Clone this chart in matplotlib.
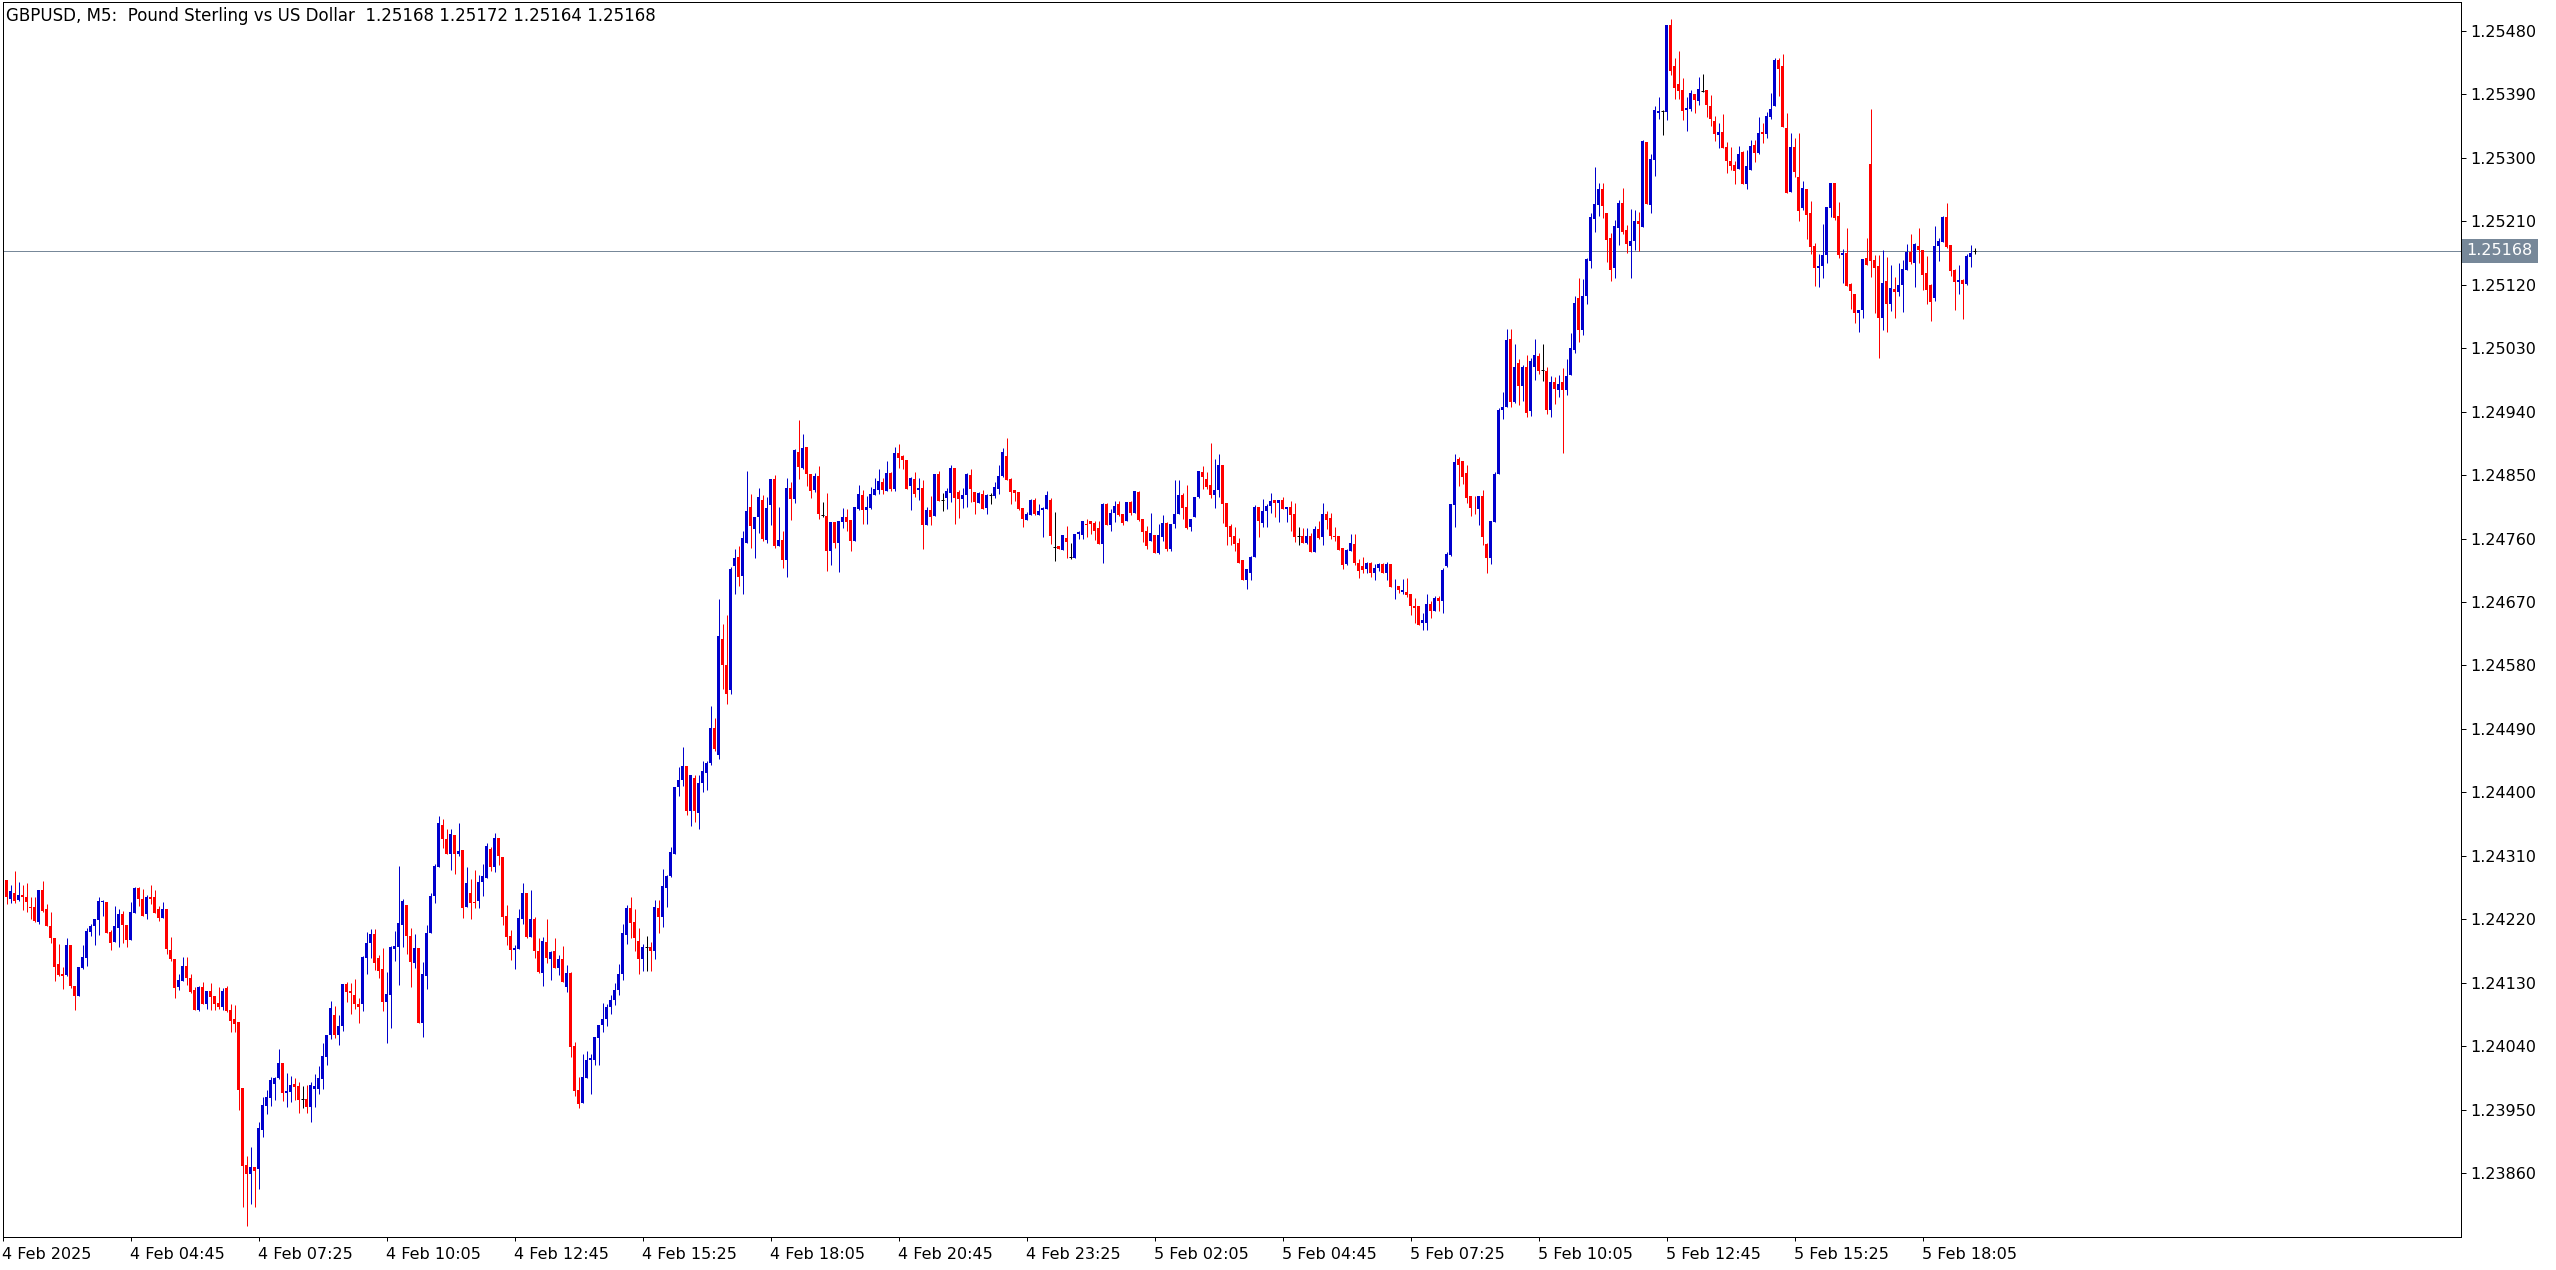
import numpy as np
import matplotlib
matplotlib.use("Agg")
import matplotlib.pyplot as plt

# GBPUSD M5 candles, prices in points (1e-5), one entry per bar
opens = [
    124310, 124276, 124249, 124258, 124247, 124255, 124252, 124237, 124237, 124216,
    124262, 124234, 124211, 124194, 124156, 124143, 124141, 124183, 124126, 124111,
    124151, 124165, 124202, 124210, 124219, 124244, 124245, 124202, 124188, 124207,
    124227, 124212, 124191, 124229, 124265, 124249, 124227, 124252, 124252, 124234,
    124222, 124234, 124177, 124163, 124124, 124133, 124154, 124137, 124120, 124092,
    124124, 124100, 124119, 124111, 124101, 124095, 124122, 124091, 124078, 124074,
    123981, 123871, 123859, 123869, 123866, 123921, 123955, 123966, 123986, 123995,
    124016, 123973, 123975, 123986, 123983, 123965, 123965, 123954, 123979, 123979,
    123993, 124025, 124056, 124084, 124056, 124069, 124128, 124118, 124112, 124100,
    124100, 124165, 124186, 124199, 124165, 124149, 124103, 124112, 124178, 124181,
    124212, 124240, 124197, 124158, 124179, 124073, 124139, 124200, 124253, 124294,
    124354, 124334, 124312, 124339, 124312, 124318, 124237, 124257, 124244, 124246,
    124273, 124278, 124319, 124294, 124336, 124308, 124224, 124196, 124176, 124178,
    124220, 124257, 124195, 124220, 124175, 124144, 124188, 124163, 124175, 124151,
    124163, 124124, 124144, 124041, 123978, 123959, 123995, 124021, 124021, 124051,
    124070, 124078, 124095, 124105, 124120, 124142, 124198, 124236, 124216, 124189,
    124164, 124180, 124180, 124175, 124236, 124223, 124264, 124281, 124313, 124407,
    124417, 124438, 124374, 124420, 124371, 124414, 124427, 124442, 124492, 124453,
    124618, 124581, 124545, 124721, 124734, 124707, 124753, 124805, 124774, 124790,
    124815, 124758, 124808, 124844, 124749, 124758, 124729, 124832, 124816, 124883,
    124860, 124890, 124851, 124829, 124849, 124794, 124792, 124743, 124784, 124753,
    124784, 124791, 124787, 124757, 124802, 124822, 124800, 124804, 124822, 124829,
    124840, 124827, 124853, 124830, 124881, 124877, 124871, 124835, 124845, 124829,
    124832, 124779, 124800, 124792, 124852, 124815, 124818, 124825, 124860, 124826,
    124816, 124822, 124850, 124826, 124810, 124823, 124803, 124822, 124820, 124830,
    124849, 124877, 124844, 124829, 124826, 124803, 124786, 124793, 124815, 124793,
    124800, 124802, 124815, 124748, 124749, 124744, 124761, 124734, 124732, 124766,
    124765, 124781, 124785, 124782, 124775, 124752, 124809, 124779, 124796, 124809,
    124795, 124785, 124812, 124796, 124826, 124788, 124771, 124757, 124765, 124739,
    124762, 124782, 124745, 124781, 124795, 124822, 124805, 124776, 124790, 124819,
    124854, 124844, 124836, 124822, 124829, 124864, 124810, 124778, 124763, 124754,
    124729, 124701, 124711, 124734, 124805, 124782, 124799, 124806, 124815, 124810,
    124815, 124802, 124805, 124795, 124763, 124763, 124754, 124763, 124741, 124773,
    124762, 124795, 124789, 124763, 124763, 124746, 124724, 124742, 124752, 124725,
    124721, 124717, 124725, 124711, 124718, 124724, 124711, 124724, 124691, 124693,
    124684, 124684, 124681, 124665, 124664, 124640, 124640, 124667, 124657, 124675,
    124671, 124721, 124736, 124807, 124873, 124870, 124853, 124820, 124804, 124802,
    124820, 124752, 124732, 124783, 124851, 124942, 124946, 125043, 124953, 125009,
    124976, 125003, 124941, 125004, 125019, 124999, 124997, 124943, 124982, 124970,
    124982, 124970, 124992, 125027, 125101, 125056, 125104, 125153, 125213, 125233,
    125256, 125222, 125186, 125144, 125200, 125236, 125198, 125175, 125182, 125210,
    125202, 125322, 125233, 125297, 125364, 125367, 125365, 125489, 125430, 125405,
    125396, 125368, 125369, 125391, 125381, 125395, 125396, 125374, 125352, 125332,
    125337, 125315, 125296, 125290, 125284, 125308, 125263, 125283, 125318, 125307,
    125337, 125334, 125358, 125374, 125439, 125430, 125342, 125252, 125315, 125273,
    125229, 125256, 125222, 125175, 125144, 125147, 125162, 125229, 125264, 125218,
    125162, 125165, 125121, 125107, 125080, 125084, 125158, 125291, 125155, 125147,
    125073, 125125, 125093, 125114, 125110, 125120, 125141, 125166, 125151, 125175,
    125169, 125137, 125120, 125101, 125175, 125181, 125216, 125176, 125141, 125124,
    125127, 125121, 125159, 125168,
]
highs = [
    124310, 124276, 124268, 124288, 124273, 124268, 124272, 124252, 124252, 124262,
    124275, 124241, 124231, 124194, 124185, 124153, 124194, 124183, 124126, 124153,
    124183, 124208, 124214, 124221, 124252, 124248, 124245, 124205, 124239, 124234,
    124232, 124212, 124244, 124266, 124266, 124263, 124255, 124269, 124262, 124239,
    124244, 124234, 124195, 124163, 124143, 124166, 124166, 124143, 124124, 124126,
    124131, 124119, 124130, 124111, 124124, 124122, 124125, 124100, 124098, 124074,
    123981, 123884, 123897, 123869, 123932, 123968, 123978, 123996, 123996, 124036,
    124016, 124002, 123998, 123995, 123989, 123983, 123985, 123989, 124000, 124012,
    124044, 124056, 124104, 124097, 124084, 124128, 124131, 124130, 124135, 124108,
    124168, 124202, 124206, 124206, 124169, 124179, 124145, 124182, 124203, 124296,
    124249, 124240, 124207, 124199, 124179, 124159, 124212, 124257, 124298, 124366,
    124362, 124348, 124348, 124339, 124356, 124318, 124294, 124277, 124290, 124283,
    124298, 124328, 124322, 124342, 124336, 124308, 124240, 124205, 124183, 124234,
    124271, 124257, 124261, 124223, 124193, 124195, 124220, 124175, 124193, 124169,
    124182, 124155, 124145, 124046, 123996, 124029, 124033, 124029, 124053, 124070,
    124101, 124100, 124112, 124130, 124157, 124213, 124240, 124251, 124235, 124208,
    124185, 124196, 124188, 124247, 124247, 124291, 124283, 124322, 124408, 124436,
    124464, 124438, 124424, 124425, 124425, 124445, 124445, 124523, 124505, 124674,
    124639, 124652, 124720, 124745, 124749, 124771, 124856, 124823, 124791, 124832,
    124822, 124819, 124845, 124850, 124805, 124771, 124846, 124840, 124887, 124928,
    124908, 124890, 124852, 124853, 124863, 124812, 124825, 124783, 124784, 124785,
    124803, 124802, 124787, 124805, 124836, 124829, 124820, 124833, 124846, 124859,
    124846, 124870, 124854, 124890, 124894, 124879, 124871, 124847, 124854, 124846,
    124843, 124805, 124820, 124852, 124856, 124825, 124832, 124864, 124860, 124829,
    124832, 124853, 124859, 124826, 124826, 124829, 124823, 124825, 124840, 124864,
    124888, 124903, 124846, 124829, 124826, 124803, 124798, 124816, 124817, 124809,
    124805, 124827, 124817, 124798, 124749, 124765, 124778, 124754, 124766, 124771,
    124785, 124788, 124785, 124785, 124785, 124810, 124810, 124802, 124813, 124813,
    124795, 124812, 124813, 124827, 124827, 124788, 124778, 124796, 124765, 124781,
    124793, 124783, 124781, 124843, 124843, 124825, 124836, 124788, 124819, 124856,
    124863, 124854, 124895, 124873, 124880, 124864, 124810, 124781, 124776, 124761,
    124729, 124717, 124735, 124807, 124805, 124816, 124809, 124825, 124815, 124815,
    124819, 124805, 124813, 124810, 124776, 124775, 124775, 124768, 124778, 124785,
    124810, 124799, 124796, 124776, 124763, 124746, 124745, 124766, 124766, 124731,
    124734, 124727, 124727, 124724, 124725, 124725, 124727, 124724, 124702, 124693,
    124702, 124704, 124681, 124675, 124664, 124655, 124681, 124672, 124678, 124678,
    124718, 124741, 124809, 124880, 124875, 124870, 124865, 124820, 124821, 124820,
    124829, 124753, 124785, 124854, 124945, 124968, 125057, 125057, 125036, 125014,
    125006, 125020, 125016, 125043, 125023, 125036, 125003, 124990, 124989, 124992,
    125002, 125014, 125051, 125104, 125129, 125128, 125158, 125222, 125287, 125264,
    125264, 125222, 125193, 125212, 125240, 125257, 125205, 125227, 125226, 125223,
    125325, 125322, 125305, 125374, 125386, 125368, 125489, 125497, 125442, 125452,
    125413, 125386, 125396, 125391, 125415, 125419, 125396, 125389, 125359, 125349,
    125362, 125323, 125315, 125296, 125317, 125310, 125311, 125325, 125325, 125358,
    125349, 125365, 125392, 125442, 125442, 125447, 125364, 125335, 125328, 125335,
    125267, 125256, 125239, 125179, 125164, 125206, 125230, 125264, 125264, 125237,
    125171, 125200, 125122, 125107, 125084, 125156, 125186, 125369, 125162, 125162,
    125169, 125159, 125148, 125131, 125151, 125155, 125178, 125192, 125179, 125200,
    125169, 125161, 125121, 125203, 125186, 125218, 125236, 125176, 125142, 125148,
    125128, 125164, 125176, 125172,
]
lows = [
    124275, 124241, 124243, 124243, 124246, 124233, 124231, 124221, 124216, 124213,
    124230, 124210, 124187, 124133, 124140, 124121, 124140, 124123, 124091, 124111,
    124150, 124154, 124197, 124183, 124198, 124224, 124200, 124177, 124188, 124181,
    124187, 124181, 124191, 124229, 124239, 124225, 124221, 124242, 124229, 124217,
    124222, 124171, 124161, 124109, 124120, 124133, 124127, 124116, 124092, 124090,
    124100, 124093, 124092, 124091, 124093, 124091, 124088, 124060, 124060, 123949,
    123812, 123785, 123816, 123812, 123837, 123911, 123944, 123955, 123964, 123993,
    123962, 123954, 123961, 123964, 123945, 123952, 123945, 123932, 123954, 123972,
    123979, 124013, 124050, 124052, 124042, 124061, 124103, 124086, 124093, 124073,
    124090, 124142, 124165, 124148, 124137, 124090, 124044, 124066, 124161, 124127,
    124181, 124171, 124124, 124151, 124073, 124053, 124121, 124200, 124243, 124294,
    124321, 124312, 124290, 124284, 124310, 124222, 124237, 124220, 124236, 124236,
    124253, 124278, 124288, 124287, 124297, 124212, 124183, 124162, 124149, 124178,
    124213, 124193, 124195, 124165, 124144, 124125, 124158, 124134, 124151, 124141,
    124131, 124117, 124024, 123970, 123953, 123959, 123995, 123972, 124014, 124014,
    124060, 124068, 124085, 124098, 124112, 124134, 124185, 124193, 124175, 124142,
    124147, 124147, 124147, 124164, 124201, 124209, 124237, 124280, 124313, 124395,
    124409, 124368, 124352, 124358, 124348, 124400, 124403, 124439, 124458, 124447,
    124547, 124525, 124539, 124682, 124693, 124682, 124753, 124747, 124733, 124768,
    124757, 124753, 124779, 124747, 124749, 124718, 124706, 124787, 124810, 124845,
    124858, 124835, 124818, 124826, 124788, 124791, 124714, 124723, 124747, 124712,
    124775, 124771, 124743, 124757, 124801, 124780, 124781, 124802, 124822, 124823,
    124823, 124827, 124827, 124827, 124860, 124859, 124830, 124800, 124819, 124815,
    124745, 124779, 124779, 124792, 124813, 124799, 124802, 124812, 124781, 124789,
    124803, 124805, 124812, 124795, 124810, 124802, 124795, 124809, 124818, 124823,
    124847, 124843, 124809, 124813, 124800, 124776, 124786, 124793, 124793, 124793,
    124762, 124802, 124752, 124728, 124745, 124744, 124732, 124731, 124732, 124759,
    124759, 124762, 124766, 124758, 124752, 124725, 124779, 124771, 124783, 124792,
    124779, 124785, 124793, 124796, 124785, 124755, 124745, 124757, 124739, 124738,
    124756, 124742, 124742, 124775, 124795, 124788, 124773, 124771, 124790, 124817,
    124830, 124830, 124817, 124803, 124819, 124782, 124751, 124751, 124742, 124725,
    124701, 124688, 124701, 124734, 124762, 124776, 124776, 124796, 124790, 124783,
    124802, 124783, 124771, 124755, 124751, 124754, 124752, 124741, 124741, 124759,
    124751, 124773, 124759, 124756, 124744, 124717, 124722, 124742, 124722, 124704,
    124711, 124711, 124705, 124701, 124714, 124711, 124701, 124691, 124674, 124683,
    124681, 124677, 124651, 124640, 124637, 124631, 124631, 124647, 124657, 124657,
    124655, 124719, 124735, 124776, 124834, 124837, 124810, 124792, 124795, 124779,
    124751, 124711, 124724, 124783, 124851, 124929, 124946, 124946, 124952, 124949,
    124955, 124932, 124934, 124985, 124993, 124983, 124936, 124932, 124951, 124961,
    124881, 124963, 124992, 125023, 125039, 125048, 125093, 125144, 125195, 125217,
    125215, 125152, 125125, 125129, 125176, 125192, 125165, 125129, 125169, 125168,
    125202, 125235, 125222, 125274, 125355, 125332, 125354, 125418, 125383, 125383,
    125354, 125338, 125366, 125364, 125375, 125393, 125358, 125345, 125324, 125314,
    125314, 125279, 125283, 125263, 125284, 125263, 125256, 125283, 125294, 125305,
    125321, 125328, 125355, 125374, 125388, 125344, 125250, 125252, 125273, 125210,
    125226, 125185, 125164, 125118, 125117, 125130, 125151, 125216, 125212, 125158,
    125122, 125118, 125086, 125066, 125053, 125073, 125148, 125131, 125080, 125016,
    125056, 125053, 125083, 125073, 125104, 125081, 125141, 125149, 125117, 125151,
    125112, 125093, 125068, 125097, 125154, 125181, 125172, 125132, 125084, 125107,
    125071, 125120, 125145, 125164,
]
closes = [
    124276, 124251, 124260, 124246, 124255, 124252, 124244, 124236, 124217, 124262,
    124232, 124210, 124193, 124152, 124141, 124140, 124183, 124125, 124111, 124153,
    124166, 124204, 124211, 124221, 124246, 124246, 124201, 124187, 124210, 124227,
    124212, 124191, 124231, 124265, 124249, 124225, 124252, 124249, 124229, 124222,
    124235, 124178, 124163, 124122, 124134, 124154, 124137, 124117, 124092, 124124,
    124100, 124119, 124110, 124100, 124096, 124118, 124090, 124076, 124071, 123978,
    123870, 123859, 123869, 123863, 123924, 123956, 123968, 123992, 123995, 124016,
    123973, 123976, 123985, 123982, 123964, 123965, 123954, 123985, 123983, 123995,
    124026, 124056, 124094, 124056, 124069, 124128, 124117, 124115, 124100, 124095,
    124166, 124186, 124199, 124158, 124147, 124103, 124114, 124181, 124182, 124215,
    124246, 124196, 124159, 124179, 124073, 124142, 124200, 124253, 124295, 124356,
    124334, 124312, 124341, 124312, 124317, 124236, 124271, 124243, 124243, 124273,
    124281, 124324, 124294, 124336, 124310, 124223, 124195, 124176, 124179, 124222,
    124257, 124195, 124220, 124175, 124145, 124189, 124165, 124173, 124151, 124163,
    124131, 124144, 124039, 123976, 123958, 123996, 124021, 124023, 124053, 124070,
    124078, 124095, 124105, 124120, 124142, 124201, 124236, 124215, 124193, 124164,
    124180, 124180, 124175, 124237, 124223, 124267, 124281, 124315, 124408, 124418,
    124438, 124374, 124424, 124373, 124414, 124430, 124442, 124492, 124462, 124622,
    124580, 124539, 124717, 124733, 124706, 124761, 124799, 124778, 124791, 124819,
    124759, 124803, 124844, 124749, 124758, 124729, 124832, 124816, 124886, 124861,
    124888, 124851, 124828, 124849, 124795, 124794, 124743, 124783, 124753, 124785,
    124791, 124784, 124757, 124805, 124823, 124800, 124805, 124823, 124830, 124842,
    124829, 124853, 124830, 124881, 124874, 124871, 124830, 124846, 124823, 124832,
    124779, 124800, 124791, 124852, 124813, 124815, 124827, 124860, 124818, 124816,
    124822, 124852, 124830, 124812, 124825, 124802, 124822, 124822, 124833, 124849,
    124883, 124843, 124826, 124825, 124802, 124788, 124795, 124815, 124795, 124799,
    124804, 124822, 124763, 124748, 124745, 124765, 124755, 124734, 124766, 124769,
    124785, 124779, 124781, 124771, 124752, 124809, 124779, 124796, 124806, 124793,
    124782, 124812, 124796, 124827, 124786, 124769, 124749, 124768, 124739, 124765,
    124782, 124745, 124781, 124795, 124822, 124803, 124775, 124788, 124819, 124856,
    124847, 124833, 124822, 124829, 124864, 124809, 124776, 124762, 124752, 124725,
    124701, 124717, 124734, 124805, 124785, 124799, 124806, 124813, 124810, 124815,
    124802, 124805, 124793, 124762, 124763, 124754, 124763, 124741, 124773, 124761,
    124795, 124786, 124763, 124762, 124744, 124722, 124744, 124754, 124725, 124714,
    124715, 124725, 124711, 124718, 124724, 124711, 124724, 124691, 124692, 124687,
    124687, 124680, 124664, 124661, 124638, 124644, 124667, 124657, 124675, 124671,
    124715, 124738, 124809, 124868, 124864, 124847, 124817, 124803, 124803, 124820,
    124762, 124732, 124785, 124851, 124943, 124946, 125041, 124953, 125004, 124976,
    125003, 124938, 125012, 125020, 124997, 124999, 124942, 124982, 124972, 124979,
    124970, 124990, 125030, 125094, 125056, 125104, 125156, 125216, 125234, 125256,
    125232, 125183, 125141, 125203, 125236, 125195, 125178, 125182, 125210, 125206,
    125324, 125235, 125298, 125368, 125366, 125367, 125489, 125423, 125399, 125395,
    125366, 125371, 125392, 125382, 125398, 125395, 125375, 125355, 125334, 125337,
    125314, 125296, 125288, 125281, 125305, 125263, 125288, 125317, 125307, 125335,
    125334, 125359, 125369, 125439, 125426, 125344, 125250, 125315, 125280, 125225,
    125257, 125219, 125174, 125144, 125147, 125162, 125230, 125264, 125215, 125162,
    125165, 125118, 125111, 125080, 125084, 125156, 125148, 125154, 125144, 125073,
    125122, 125093, 125115, 125110, 125120, 125142, 125166, 125152, 125178, 125169,
    125134, 125112, 125095, 125175, 125182, 125216, 125174, 125139, 125124, 125127,
    125121, 125161, 125165, 125168,
]

price_ticks = [1.23860, 1.23950, 1.24040, 1.24130, 1.24220, 1.24310, 1.24400,
               1.24490, 1.24580, 1.24670, 1.24760, 1.24850, 1.24940, 1.25030,
               1.25120, 1.25210, 1.25300, 1.25390, 1.25480]
time_labels = ["4 Feb 2025", "4 Feb 04:45", "4 Feb 07:25", "4 Feb 10:05",
               "4 Feb 12:45", "4 Feb 15:25", "4 Feb 18:05", "4 Feb 20:45",
               "4 Feb 23:25", "5 Feb 02:05", "5 Feb 04:45", "5 Feb 07:25",
               "5 Feb 10:05", "5 Feb 12:45", "5 Feb 15:25", "5 Feb 18:05"]
bid = 1.25168
title = "GBPUSD, M5:  Pound Sterling vs US Dollar  1.25168 1.25172 1.25164 1.25168"

o = np.array(opens) / 1e5
h = np.array(highs) / 1e5
l = np.array(lows) / 1e5
c = np.array(closes) / 1e5
x = np.arange(len(o))

UP = "#0000cd"
DOWN = "#ff0000"
FLAT = "#000000"
px = 72 / 100  # one pixel in points

plt.rcParams["font.family"] = ["DejaVu Sans"]

W, H = 2556, 1270
fig = plt.figure(figsize=(W / 100, H / 100), dpi=100)
left, right, top, bottom = 2.5, 2461, 2, 1237
ax = fig.add_axes([left / W, (H - bottom) / H, (right - left) / W, (bottom - top) / H])

# wicks, bodies, and doji bars
colors = np.where(c > o, UP, np.where(c < o, DOWN, FLAT))
ax.vlines(x, l, h, colors=colors, linewidth=px)
body = c != o
ax.bar(x[body], np.abs(c - o)[body], bottom=np.minimum(o, c)[body],
       width=0.75, color=colors[body], linewidth=0)
flat = ~body
ax.hlines(o[flat], x[flat] - 0.375, x[flat] + 0.375, colors=FLAT, linewidth=px)

ax.axhline(bid, color="#778899", linewidth=px, zorder=0)

ax.set_xlim(0, (right - left) / 4)
ax.set_ylim(1.237694, 1.25521)

ax.yaxis.tick_right()
ax.set_yticks(price_ticks)
ax.set_yticklabels([f"{v:.5f}" for v in price_ticks])
ax.set_xticks(np.arange(len(time_labels)) * 32)
ax.set_xticklabels(time_labels)
for lab in ax.get_xticklabels():
    lab.set_horizontalalignment("left")
ax.tick_params(axis="y", direction="out", length=5 * px, width=px, pad=3,
               labelsize=11.5, colors="black")
ax.tick_params(axis="x", direction="out", length=4 * px, width=px, pad=4,
               labelsize=11.5, colors="black")
for s in ax.spines.values():
    s.set_linewidth(px)
    s.set_color("black")

ax.annotate("1.25168", xy=(1, bid), xycoords=("axes fraction", "data"),
            xytext=(4, 0), textcoords="offset points", ha="left", va="center",
            fontsize=11.5, color="white", annotation_clip=False,
            bbox=dict(boxstyle="square,pad=0.3", facecolor="#778899",
                      edgecolor="none"))

fig.text(6 / W, 1 - 16 / H, title, ha="left", va="center", fontsize=12)

fig.savefig("out.png", dpi=100, facecolor="white")
